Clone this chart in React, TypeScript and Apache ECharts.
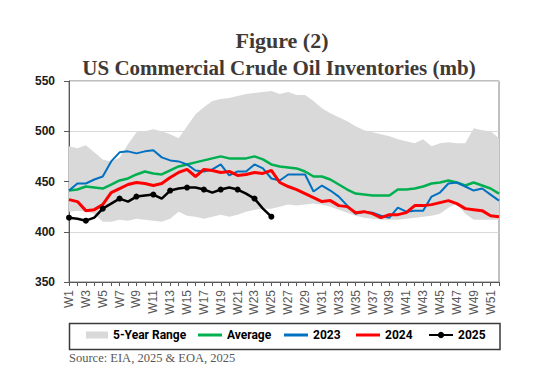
import React, { useEffect, useRef } from 'react';
import * as echarts from 'echarts';

const weeks = [
  'W1','W2','W3','W4','W5','W6','W7','W8','W9','W10','W11','W12','W13',
  'W14','W15','W16','W17','W18','W19','W20','W21','W22','W23','W24','W25','W26',
  'W27','W28','W29','W30','W31','W32','W33','W34','W35','W36','W37','W38','W39',
  'W40','W41','W42','W43','W44','W45','W46','W47','W48','W49','W50','W51','W52',
];

const rangeLow = [
  420, 421, 420, 418, 410, 410, 412, 411, 413, 412, 411, 410, 413,
  420, 416, 415, 413, 415, 417, 415, 417, 420, 422, 423, 423, 425,
  427, 426, 427, 428, 427, 425, 422, 419, 416, 414, 413, 412, 412,
  412, 413, 414, 415, 416, 418, 424, 428, 418, 412, 412, 412, 412,
];

const rangeHigh = [
  485, 483, 486, 479, 472, 470, 474, 487, 499, 500, 502, 500, 497,
  493, 505, 517, 524, 530, 532, 533, 535, 537, 538, 539, 540, 537,
  539, 536, 536, 530, 523, 518, 514, 510, 505, 501, 499, 497, 495,
  492, 490, 488, 492, 485, 488, 489, 488, 488, 503, 501, 500, 493,
];

const average = [
  441, 442, 445, 444, 443, 447, 451, 453, 457, 460, 458, 457, 461,
  465, 467, 469, 471, 473, 475, 473, 473, 473, 475, 472, 467, 465,
  464, 463, 460, 455, 455, 452, 447, 442, 438, 437, 436, 436, 436,
  442, 442, 443, 445, 448, 449, 451, 449, 446, 449, 446, 443, 438,
];

const y2023 = [
  441, 448, 448, 452, 455, 470, 479, 480, 478, 480, 481, 474, 471,
  470, 467, 461, 460, 462, 467, 456, 460, 460, 467, 463, 453, 451,
  457, 457, 457, 440, 446, 441, 435, 426, 418, 420, 419, 416, 414,
  424, 420, 421, 421, 435, 439, 448, 449, 445, 441, 443, 437, 431,
];

const y2024 = [
  432, 430, 421, 422, 427, 439, 443, 447, 449, 448, 446, 448, 454,
  459, 462, 455, 462, 461, 459, 460, 456, 457, 459, 458, 461, 449,
  445, 442, 438, 434, 430, 431, 426, 425, 419, 420, 418, 414, 417,
  417, 419, 426, 426, 427, 429, 431, 428, 423, 422, 421, 416, 415,
];

const y2025 = [
  414, 413, 411, 414, 423, 428, 433, 430, 435, 436, 437, 433, 441,
  443, 444, 444, 442, 439, 442, 444, 442, 438, 433, 423, 415,
];

const yTicks = { min: 350, max: 550, interval: 50 };

const legendNames = ['5-Year Range', 'Average', '2023', '2024', '2025'];
const legendLefts = [86, 198, 284, 356, 428];

export default function App() {
  const ref = useRef<HTMLDivElement>(null);

  useEffect(() => {
    const chart = echarts.init(ref.current!, null, { renderer: 'svg' });
    const rangeSpan = rangeHigh.map((h, i) => h - rangeLow[i]);
    const legendText = {
      fontFamily: 'Roboto, Liberation Sans, sans-serif',
      fontWeight: 'bold',
      fontSize: 12,
      color: '#000000',
    };
    const legendIcon = (i: number) => {
      if (i === 0) return { icon: 'rect', itemWidth: 22, itemHeight: 7 };
      if (i === 4) return { itemWidth: 24, itemHeight: 8 };
      return { icon: 'rect', itemWidth: 24, itemHeight: 3 };
    };
    const legends = legendNames.map((name, i) => {
      const ic = legendIcon(i);
      return {
        left: legendLefts[i],
        top: 329,
        padding: 0,
        itemWidth: ic.itemWidth,
        itemHeight: ic.itemHeight,
        textStyle: legendText,
        data: [ic.icon ? { name, icon: ic.icon } : { name }],
      };
    });
    chart.setOption({
      animation: false,
      backgroundColor: '#ffffff',
      grid: {
        left: 69,
        right: 58,
        top: 81,
        bottom: 109,
        show: true,
        borderColor: '#808080',
        borderWidth: 1,
        backgroundColor: 'transparent',
      },
      xAxis: {
        type: 'category',
        data: weeks,
        boundaryGap: false,
        axisLine: { lineStyle: { color: '#595959', width: 1 } },
        axisTick: { show: true, inside: false, length: 4, interval: 0, lineStyle: { color: '#595959' } },
        axisLabel: {
          interval: 1,
          rotate: 90,
          margin: 8,
          color: '#595959',
          fontSize: 12,
          fontFamily: 'Liberation Sans, Arial, sans-serif',
        },
        splitLine: { show: false },
      },
      yAxis: {
        type: 'value',
        min: yTicks.min,
        max: yTicks.max,
        interval: yTicks.interval,
        axisLine: { show: true, lineStyle: { color: '#595959', width: 1 } },
        axisTick: { show: true, inside: false, length: 5, lineStyle: { color: '#595959' } },
        axisLabel: {
          margin: 14,
          color: '#1a1a1a',
          fontSize: 12,
          fontWeight: 'bold',
          fontFamily: 'Liberation Sans, Arial, sans-serif',
        },
        splitLine: { show: true, lineStyle: { color: '#d9d9d9', width: 1 } },
      },
      legend: legends,
      graphic: [
        {
          type: 'text',
          style: {
            text: 'Figure (2)',
            x: 282,
            y: 40,
            textAlign: 'center',
            textVerticalAlign: 'middle',
            fontFamily: 'Liberation Serif, serif',
            fontWeight: 'bold',
            fontSize: 22,
            fill: '#3f3a36',
          },
        },
        {
          type: 'text',
          style: {
            text: 'US Commercial Crude Oil Inventories (mb)',
            x: 279,
            y: 67.5,
            textAlign: 'center',
            textVerticalAlign: 'middle',
            fontFamily: 'Liberation Serif, serif',
            fontWeight: 'bold',
            fontSize: 21,
            fill: '#3f3a36',
          },
        },
        {
          type: 'rect',
          shape: { x: 69.5, y: 323.5, width: 430.5, height: 26 },
          style: { fill: 'none', stroke: '#3a3a3a', lineWidth: 1.5 },
          silent: true,
        },
        {
          type: 'text',
          style: {
            text: 'Source: EIA, 2025 & EOA, 2025',
            x: 69,
            y: 357.5,
            textAlign: 'left',
            textVerticalAlign: 'middle',
            fontFamily: 'Liberation Serif, serif',
            fontSize: 12.5,
            fill: '#595959',
          },
        },
      ],
      series: [
        {
          name: 'rangeBase',
          type: 'line',
          stack: 'range',
          data: rangeLow,
          symbol: 'none',
          lineStyle: { width: 0, opacity: 0 },
          silent: true,
          z: 1,
        },
        {
          name: '5-Year Range',
          type: 'line',
          stack: 'range',
          data: rangeSpan,
          symbol: 'none',
          itemStyle: { color: '#d9d9d9' },
          lineStyle: { width: 0, opacity: 0 },
          areaStyle: { color: '#d9d9d9', opacity: 1 },
          silent: true,
          z: 1,
        },
        {
          name: 'Average',
          type: 'line',
          data: average,
          symbol: 'none',
          itemStyle: { color: '#00b050' },
          lineStyle: { color: '#00b050', width: 2.5 },
          z: 3,
        },
        {
          name: '2023',
          type: 'line',
          data: y2023,
          symbol: 'none',
          itemStyle: { color: '#0070c0' },
          lineStyle: { color: '#0070c0', width: 2 },
          z: 4,
        },
        {
          name: '2024',
          type: 'line',
          data: y2024,
          symbol: 'none',
          itemStyle: { color: '#ff0000' },
          lineStyle: { color: '#ff0000', width: 3 },
          z: 5,
        },
        {
          name: '2025',
          type: 'line',
          data: y2025,
          symbol: 'circle',
          symbolSize: 6,
          itemStyle: { color: '#000000' },
          lineStyle: { color: '#000000', width: 2.5 },
          z: 6,
        },
      ],
    });
    return () => chart.dispose();
  }, []);

  return (
    <div
      ref={ref}
      style={{ position: 'absolute', left: 0, top: 0, width: 557, height: 391, background: '#ffffff' }}
    />
  );
}
